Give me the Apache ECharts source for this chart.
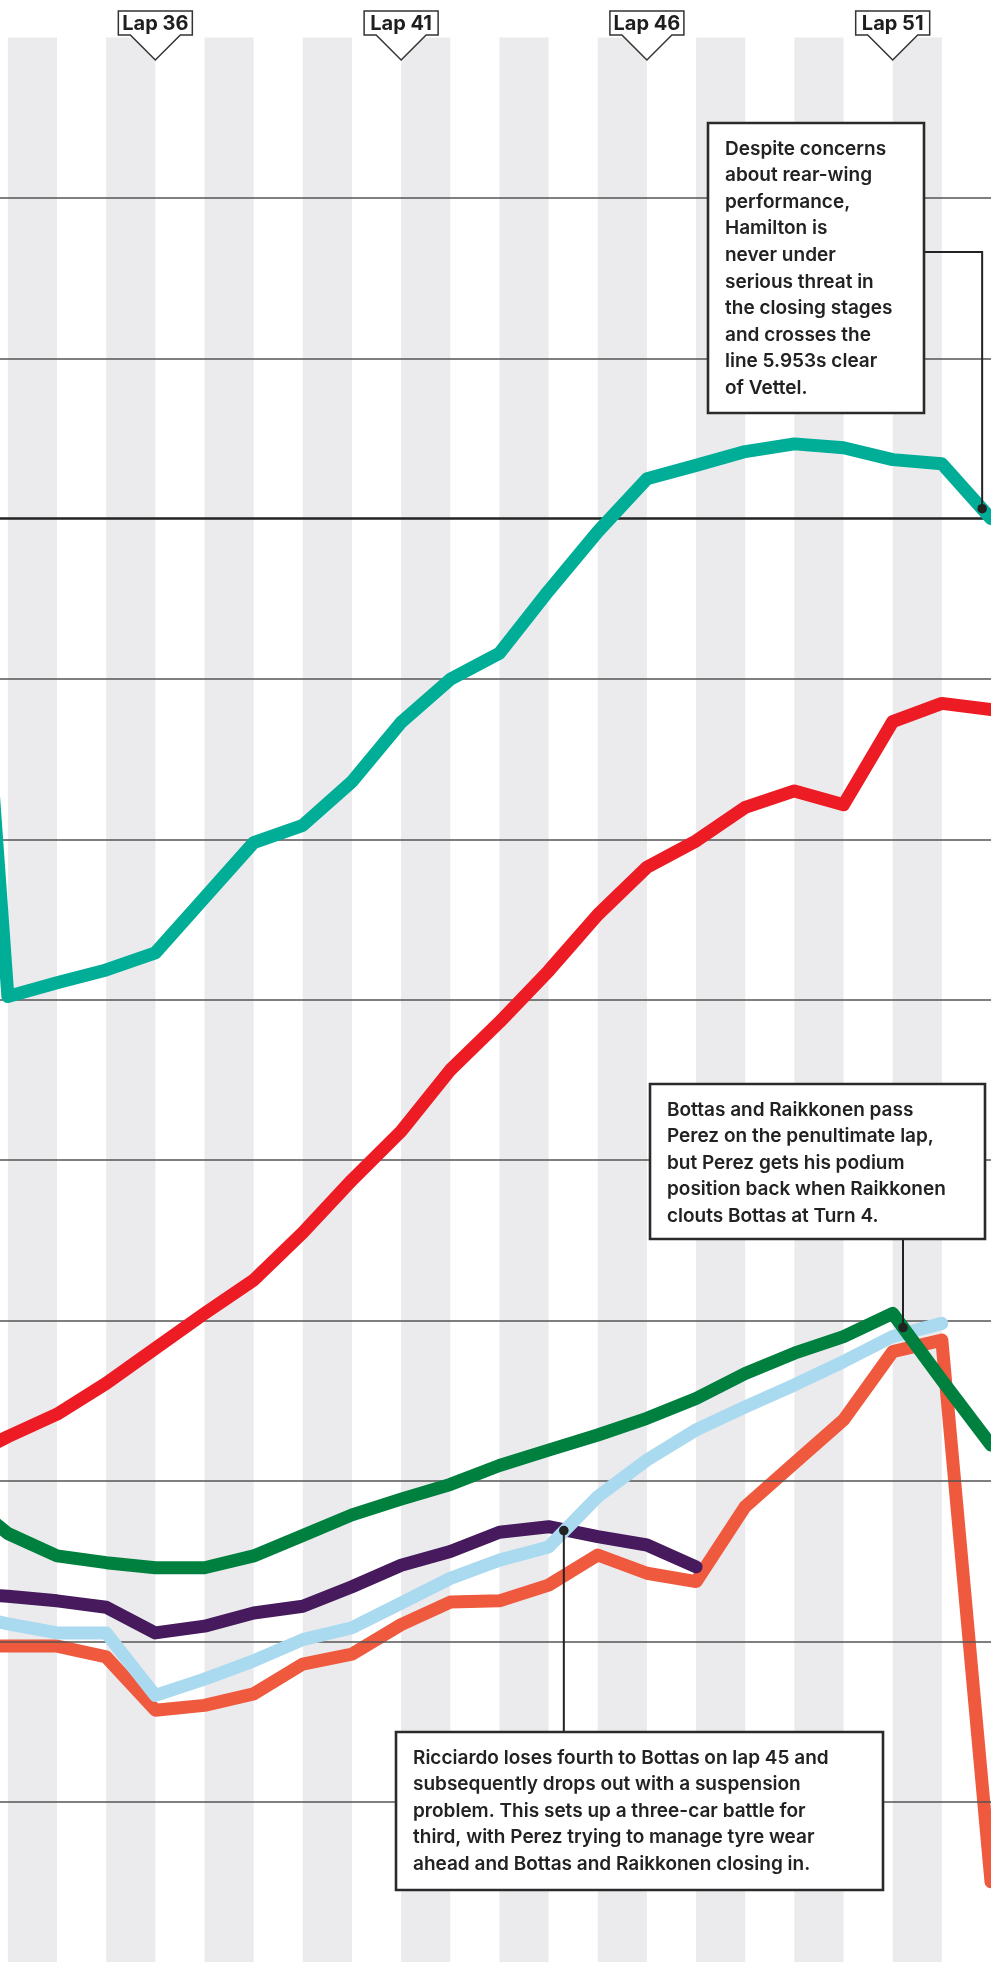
<!DOCTYPE html>
<html><head><meta charset="utf-8">
<script src="https://cdn.jsdelivr.net/npm/echarts@6/dist/echarts.min.js"></script>
<style>html,body{margin:0;padding:0;background:#fff}#c{width:991px;height:1962px}</style>
</head><body><div id="c"></div>
<script>
// ---- data ----
const laps = [32,33,34,35,36,37,38,39,40,41,42,43,44,45,46,47,48,49,50,51,52,53];
const hamilton  = [6.5, -14.9, -14.47, -14.07, -13.54, -11.82, -10.10, -9.56, -8.20, -6.35, -5.01, -4.20, -2.25, -0.41, 1.24, 1.66, 2.09, 2.33, 2.21, 1.84, 1.71, 0];
const vettel    = [-29.4, -28.62, -27.92, -26.96, -25.87, -24.78, -23.74, -22.26, -20.62, -19.10, -17.19, -15.70, -14.10, -12.35, -10.87, -10.05, -9.0, -8.49, -8.92, -6.33, -5.76, -5.953];
const bottas    = [-30.4, -31.64, -32.34, -32.55, -32.71, -32.71, -32.34, -31.70, -31.06, -30.57, -30.11, -29.52, -29.04, -28.57, -28.05, -27.43, -26.65, -26.02, -25.50, -24.78, -26.86, -28.88];
const ricciardo = [-33.5, -33.60, -33.74, -33.94, -34.74, -34.53, -34.12, -33.91, -33.30, -32.63, -32.20, -31.60, -31.43, -31.74, -32.0, -32.68, null, null, null, null, null, null];
const perez     = [-34.1, -34.46, -34.74, -34.74, -36.69, -36.18, -35.61, -34.95, -34.58, -33.81, -33.04, -32.47, -32.06, -30.49, -29.35, -28.41, -27.69, -27.01, -26.28, -25.50, -25.09, null];
const raikkonen = [-35.15, -35.15, -35.15, -35.49, -37.15, -37.0, -36.64, -35.71, -35.40, -34.48, -33.78, -33.74, -33.25, -32.31, -32.88, -33.14, -30.80, -29.45, -28.10, -25.97, -25.61, -42.5];
const gridValues = [10, 5, 0, -5, -10, -15, -20, -25, -30, -35, -40];
const stripeStarts = [33, 35, 37, 39, 41, 43, 45, 47, 49, 51];
const lapMarks = [36, 41, 46, 51];
const lapLabels = ['Lap 36', 'Lap 41', 'Lap 46', 'Lap 51'];
const hamText = 'Despite concerns\nabout rear-wing\nperformance,\nHamilton is\nnever under\nserious threat in\nthe closing stages\nand crosses the\nline 5.953s clear\nof Vettel.';
const bottasText = 'Bottas and Raikkonen pass\nPerez on the penultimate lap,\nbut Perez gets his podium\nposition back when Raikkonen\nclouts Bottas at Turn 4.';
const ricText = 'Ricciardo loses fourth to Bottas on lap 45 and\nsubsequently drops out with a suspension\nproblem. This sets up a three-car battle for\nthird, with Perez trying to manage tyre wear\nahead and Bottas and Raikkonen closing in.';
const hamAnchor = [52.82, 0.31];
const bottasAnchor = [51.21, -25.22];
const ricAnchor = [44.31, -31.55];

// ---- chart ----
const chart = echarts.init(document.getElementById('c'), null, {renderer: 'canvas'});
const FONT = 'Inter, Roboto, "Noto Sans", sans-serif';
function pts(arr){ const out=[]; laps.forEach((l,i)=>{ if(arr[i]!==null) out.push([l, arr[i]]); }); return out; }
function lineSeries(name, arr, color, z){
  return {type:'line', name, data: pts(arr), symbol:'none', z,
    lineStyle:{color, width:13, cap:'round', join:'round'}, silent:true, animation:false};
}
const series = [
  {type:'line', data:[], z:1, silent:true, animation:false,
    markArea:{silent:true, itemStyle:{color:'#ebebee'}, data: stripeStarts.map(s=>[{xAxis:s},{xAxis:s+1}])},
    markLine:{silent:true, symbol:['none','none'], label:{show:false}, animation:false,
      data: gridValues.map(v=>({yAxis:v, lineStyle: v===0 ? {color:'#222', width:2.6, type:'solid'} : {color:'#555', width:1.6, type:'solid'}}))}
  },
  lineSeries('Raikkonen', raikkonen, '#ef5a3f', 3),
  lineSeries('Ricciardo', ricciardo, '#461a5c', 4),
  lineSeries('Perez', perez, '#aadaf0', 5),
  lineSeries('Bottas', bottas, '#00803e', 6),
  lineSeries('Vettel', vettel, '#ed1c24', 7),
  lineSeries('Hamilton', hamilton, '#00ae98', 8),
  {type:'custom', z:20, clip:false, silent:true, animation:false,
    data: lapMarks.map((l,i)=>[l, 15, i]),
    renderItem: function(params, api){
      const p = api.coord([api.value(0), api.value(1)]);
      const x = p[0], t = p[1];
      const idx = api.value(2);
      return {type:'group', children:[
        {type:'polygon', shape:{points:[[x-37,t-26.5],[x+37,t-26.5],[x+37,t-2.5],[x+25,t-2.5],[x,t+22.5],[x-25,t-2.5],[x-37,t-2.5]]},
          style:{fill:'#fff', stroke:'#333', lineWidth:1.5}},
        {type:'text', x:x, y:t-14, style:{text: lapLabels[idx], fill:'#1e1e1e', fontSize:20, fontWeight:700, fontFamily:FONT, align:'center', verticalAlign:'middle'}}
      ]};
    }
  }
];
chart.setOption({
  animation:false,
  grid:{left:0, right:0, top:37.5, bottom:0, containLabel:false},
  xAxis:{type:'value', min:32.84, max:53, show:false, splitLine:{show:false}},
  yAxis:{type:'value', min:-45, max:15, show:false, splitLine:{show:false}},
  series
});

function box(x, y, w, h, text, pad){
  return [
    {type:'rect', z:100, shape:{x, y, width:w, height:h}, style:{fill:'#fff', stroke:'#2a2a2a', lineWidth:2.6}},
    {type:'text', z:101, x:x+pad, y:y+12.5, style:{text, fill:'#222', fontSize:19, fontWeight:600, fontFamily:FONT, lineHeight:26.6, verticalAlign:'top', align:'left'}}
  ];
}
const hp = chart.convertToPixel({gridIndex:0}, hamAnchor);
const bp = chart.convertToPixel({gridIndex:0}, bottasAnchor);
const rp = chart.convertToPixel({gridIndex:0}, ricAnchor);
const lineStyle = {stroke:'#222', lineWidth:2, fill:null};
const graphic = [].concat(
  [{type:'polyline', z:99, shape:{points:[[924,252],[hp[0],252],[hp[0],hp[1]]]}, style:lineStyle},
   {type:'polyline', z:99, shape:{points:[[bp[0],1239],[bp[0],bp[1]]]}, style:lineStyle},
   {type:'polyline', z:99, shape:{points:[[rp[0],rp[1]],[rp[0],1732]]}, style:lineStyle},
   {type:'circle', z:102, shape:{cx:hp[0], cy:hp[1], r:4.8}, style:{fill:'#222'}},
   {type:'circle', z:102, shape:{cx:bp[0], cy:bp[1], r:4.8}, style:{fill:'#222'}},
   {type:'circle', z:102, shape:{cx:rp[0], cy:rp[1], r:4.8}, style:{fill:'#222'}}],
  box(708, 123, 216, 290, hamText, 17),
  box(650, 1084, 335, 155, bottasText, 17),
  box(396, 1732, 487, 158, ricText, 17)
);
chart.setOption({graphic});
</script>
</body></html>
